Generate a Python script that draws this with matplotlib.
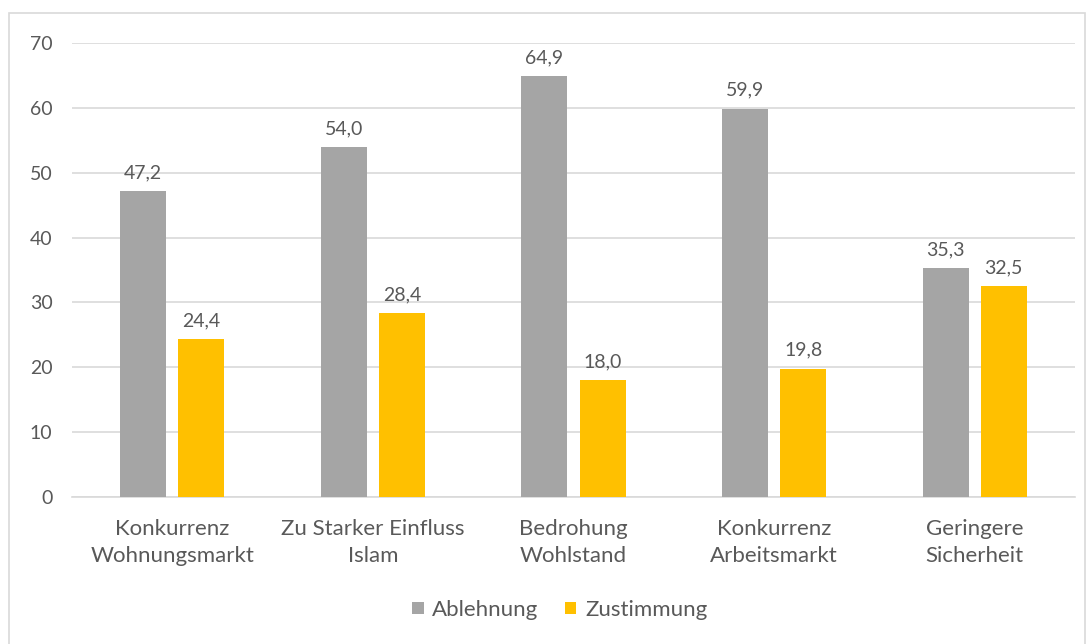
import numpy as np
import matplotlib
matplotlib.use("Agg")
import matplotlib.pyplot as plt
from matplotlib.patches import Rectangle

plt.rcParams['font.family'] = ['Lato', 'DejaVu Sans']

# data
categories = ['Konkurrenz\nWohnungsmarkt', 'Zu Starker Einfluss\nIslam', 'Bedrohung\nWohlstand',
              'Konkurrenz\nArbeitsmarkt', 'Geringere\nSicherheit']
ablehnung = [47.2, 54.0, 64.9, 59.9, 35.3]
zustimmung = [24.4, 28.4, 18.0, 19.8, 32.5]
series_names = ['Ablehnung', 'Zustimmung']

grey = '#A5A5A5'
yellow = '#FFC000'
text_col = '#595959'
grid_col = '#D9D9D9'

fig = plt.figure(figsize=(10.91, 6.44), dpi=100)
ax = fig.add_axes([72/1091, 1-497/644, (1075-72)/1091, (497-43)/644])

x = np.arange(len(categories))
w = 0.23
off = 0.145
b1 = ax.bar(x - off, ablehnung, w, color=grey, label=series_names[0], zorder=3)
b2 = ax.bar(x + off, zustimmung, w, color=yellow, label=series_names[1], zorder=3)

for bars, vals in ((b1, ablehnung), (b2, zustimmung)):
    for r, v in zip(bars, vals):
        ax.annotate(f'{v:.1f}'.replace('.', ','), (r.get_x() + r.get_width()/2, v),
                    xytext=(0, 7), textcoords='offset points', ha='center', va='bottom',
                    fontsize=14, color=text_col)

ax.set_xlim(-0.5, len(categories) - 0.5)
ax.set_ylim(0, 70)
ax.set_yticks(range(0, 71, 10))
ax.yaxis.grid(True, color=grid_col, lw=1.2, zorder=0)
ax.set_xticks(x)
ax.set_xticklabels(categories, fontsize=16, color=text_col, linespacing=1.4)
ax.tick_params(axis='y', length=0, labelsize=14, labelcolor=text_col, pad=14)
ax.tick_params(axis='x', length=0, pad=16)
for s in ['top', 'right', 'left']:
    ax.spines[s].set_visible(False)
ax.spines['bottom'].set_color(grid_col)
ax.spines['bottom'].set_linewidth(1.2)

fig.legend(loc='center', bbox_to_anchor=(560/1091, 1-610/644), ncol=2, frameon=False,
           fontsize=16, labelcolor=text_col, handlelength=0.5, handleheight=0.5,
           handletextpad=0.4, columnspacing=1.2)

fig.patches.append(Rectangle((9/1091, -0.01), (1085-9)/1091, 1-13/644+0.01,
                             transform=fig.transFigure, fill=False, ec=grid_col, lw=1.2))

fig.savefig('out.png', dpi=100)
